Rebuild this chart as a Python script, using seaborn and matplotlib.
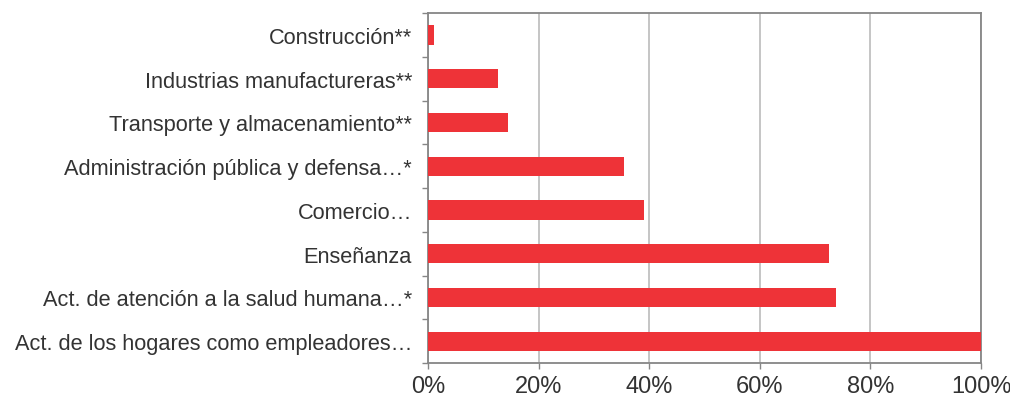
import matplotlib
matplotlib.use("Agg")
import matplotlib.pyplot as plt
import pandas as pd
import seaborn as sns
from matplotlib.ticker import FuncFormatter, FixedLocator

sectores = [
    "Construcción**",
    "Industrias manufactureras**",
    "Transporte y almacenamiento**",
    "Administración pública y defensa…*",
    "Comercio…",
    "Enseñanza",
    "Act. de atención a la salud humana…*",
    "Act. de los hogares como empleadores…",
]
porcentaje = [1.1, 12.7, 14.5, 35.4, 39.1, 72.6, 73.7, 100.0]

sns.set_theme(style="white")
plt.rcParams["font.family"] = ["Liberation Sans", "DejaVu Sans"]

BAR = "#EE3338"
FRAME = "#868686"
GRID = "#C0C0C0"

df = pd.DataFrame({"sector": sectores, "pct": porcentaje})

fig = plt.figure(figsize=(10.1, 4.06), dpi=100)
ax = fig.add_axes([0.4238, 0.1034, 0.9713 - 0.4238, 0.9655 - 0.1034])
sns.barplot(data=df, x="pct", y="sector", color=BAR, width=0.44,
            saturation=1, linewidth=0, ax=ax, zorder=3)

ax.set_xlim(0, 100)
ax.set_ylim(len(sectores) - 0.5, -0.5)
ax.set_xticks([0, 20, 40, 60, 80, 100])
ax.xaxis.set_major_formatter(FuncFormatter(lambda v, _: f"{v:.0f}%"))
ax.xaxis.grid(True, color=GRID, lw=1.3, zorder=0)
ax.set_axisbelow(True)

# ticks on the category boundaries, labels centred on the bars
ax.yaxis.set_minor_locator(FixedLocator([i - 0.5 for i in range(len(sectores) + 1)]))
ax.tick_params(axis="y", which="major", length=0, pad=11.5, labelsize=15.7,
               labelcolor="#333333")
ax.tick_params(axis="y", which="minor", left=True, length=4.5, width=1, color=FRAME)
ax.tick_params(axis="x", bottom=True, length=4.5, width=1, color=FRAME,
               labelsize=17, labelcolor="#333333", pad=4)

for s in ax.spines.values():
    s.set_color(FRAME)
    s.set_linewidth(1.3)

ax.set_xlabel("")
ax.set_ylabel("")
fig.savefig("out.png", dpi=100)
